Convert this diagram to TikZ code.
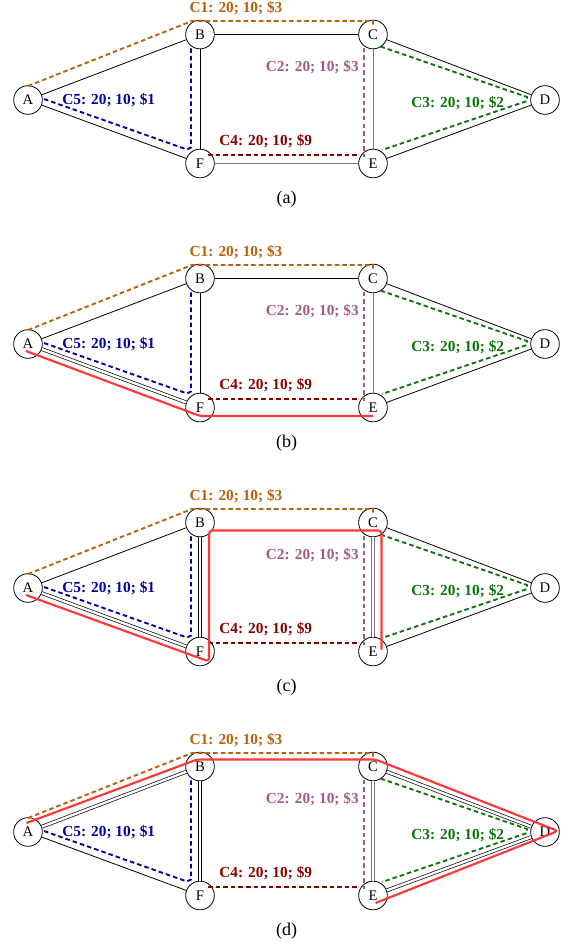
\documentclass[tikz,border=0pt]{standalone}
\usepackage{fontspec}
\setmainfont{Liberation Serif}
\usetikzlibrary{calc}
\definecolor{cone}{RGB}{184,96,10}
\definecolor{ctwo}{RGB}{164,88,132}
\definecolor{cthree}{RGB}{10,115,10}
\definecolor{cfour}{RGB}{135,0,0}
\definecolor{cfive}{RGB}{0,0,160}
\definecolor{cred}{RGB}{255,55,55}
\definecolor{lgray}{RGB}{120,120,120}
\tikzset{
  nd/.style={circle, draw, line width=0.6pt, fill=white, minimum size=21.5pt, inner sep=0pt, font=\fontsize{11}{12}\selectfont},
  lnk/.style={line width=0.6pt, draw=black},
  glnk/.style={line width=0.6pt, draw=lgray},
  dbl/.style={line width=0.5pt, double=white, double distance=1.8pt},
  cdash/.style={line width=1.4pt, dash pattern=on 3.4pt off 2.3pt},
  lbl/.style={font=\bfseries\fontsize{11.5}{13}\selectfont, inner sep=0pt},
  captxt/.style={font=\fontsize{13.5}{15}\selectfont, inner sep=0pt},
  redp/.style={draw=cred, line width=1.6pt, rounded corners=2.5pt},
}
\newcommand{\netpanel}[3]{%
\begin{scope}[shift={(0,#2)}]
  \node[nd] (A#1) at (28,100) {A};
  \node[nd] (B#1) at (200,34.5) {B};
  \node[nd] (C#1) at (373,34.5) {C};
  \node[nd] (D#1) at (545,100) {D};
  \node[nd] (E#1) at (373,163.5) {E};
  \node[nd] (F#1) at (200,163.5) {F};
  \node[captxt] (cap#1) at (286.5,199) {#3};
  % C1
  \draw[cdash, cone] ($(A#1)+(0,-14)$) -- ($(B#1)+(-8,-13.5)$) -- ($(C#1)+(0,-13.5)$) -- ($(C#1)+(0,-10)$);
  \node[lbl, text=cone] (la#1) at ($(B#1)+(36,-26.5)$) {C1: 20; 10; \$3};
  % C2
  \draw[cdash, ctwo] ($(C#1)+(-9,13)$) -- ($(E#1)+(-9,-7)$);
  \node[lbl, text=ctwo, anchor=east] (lb#1) at ($(C#1)+(-14,32.5)$) {C2: 20; 10; \$3};
  % C3
  \draw[cdash, cthree] ($(C#1)+(7.5,12)$) -- ($(D#1)+(-18,-3)$) -- ($(D#1)+(-18,1)$) -- ($(E#1)+(9,-13.5)$);
  \node[lbl, text=cthree, anchor=west] (lc#1) at ($(D#1)+(-134,3)$) {C3: 20; 10; \$2};
  % C4
  \draw[cdash, cfour] ($(F#1)+(8,-8.5)$) -- ($(E#1)+(-16,-8.5)$);
  \node[lbl, text=cfour, anchor=west] (ld#1) at ($(F#1)+(19,-22.5)$) {C4: 20; 10; \$9};
  % C5
  \draw[cdash, cfive] ($(A#1)+(16,-1)$) -- ($(F#1)+(-13,-14)$) -- ($(F#1)+(-9,-16)$) -- ($(B#1)+(-9,12.5)$);
  \node[lbl, text=cfive, anchor=west] (le#1) at ($(A#1)+(34,0)$) {C5: 20; 10; \$1};
\end{scope}}

\begin{document}
\begin{tikzpicture}[x=0.75pt,y=-0.75pt]
\useasboundingbox (0,0) rectangle (571,946);

% ---------- (a)
\netpanel{a}{0}{(a)}
\draw[lnk] (Aa) -- (Ba);
\draw[lnk] (Aa) -- (Fa);
\draw[lnk] (Ba) -- (Ca);
\draw[lnk] (Ba) -- (Fa);
\draw[lnk] (Ca) -- (Da);
\draw[lnk] (Da) -- (Ea);
\draw[glnk] (Ca) -- (Ea);
\draw[glnk] (Fa) -- (Ea);

% ---------- (b)
\netpanel{b}{244}{(b)}
\draw[lnk] (Ab) -- (Bb);
\draw[lnk, dbl] (Ab) -- (Fb);
\draw[lnk] (Bb) -- (Cb);
\draw[lnk] (Bb) -- (Fb);
\draw[lnk] (Cb) -- (Db);
\draw[lnk] (Db) -- (Eb);
\draw[glnk] (Cb) -- (Eb);
\draw[glnk, dbl] (Fb) -- (Eb);
\draw[redp] ($(Ab)+(-2,7)$) -- ($(Fb)+(0,8.5)$) -- ($(Eb)+(0,8.5)$);

% ---------- (c)
\netpanel{c}{488}{(c)}
\draw[lnk] (Ac) -- (Bc);
\draw[lnk, dbl] (Ac) -- (Fc);
\draw[lnk, dbl] (Bc) -- (Cc);
\draw[lnk, dbl] (Bc) -- (Fc);
\draw[lnk] (Cc) -- (Dc);
\draw[lnk] (Dc) -- (Ec);
\draw[glnk, dbl] (Cc) -- (Ec);
\draw[glnk, dbl] (Fc) -- (Ec);
\draw[redp] ($(Ac)+(-2,7)$) -- ($(Fc)+(9,10)$) -- ($(Bc)+(9,8)$) -- ($(Cc)+(8.5,8)$) -- ($(Ec)+(8.5,-2)$);

% ---------- (d)
\netpanel{d}{732}{(d)}
\draw[lnk, dbl] (Ad) -- (Bd);
\draw[lnk] (Ad) -- (Fd);
\draw[lnk, dbl] (Bd) -- (Cd);
\draw[lnk, dbl] (Bd) -- (Fd);
\draw[lnk, dbl] (Cd) -- (Dd);
\draw[lnk, dbl] (Dd) -- (Ed);
\draw[glnk, dbl] (Cd) -- (Ed);
\draw[glnk, dbl] (Fd) -- (Ed);
\draw[redp] ($(Ad)+(-1.5,-9)$) -- ($(Bd)+(-3,-7)$) -- ($(Cd)+(2.5,-7)$) -- ($(Dd)+(13,-1)$) -- ($(Ed)+(2.5,7.5)$);
\end{tikzpicture}
\end{document}
